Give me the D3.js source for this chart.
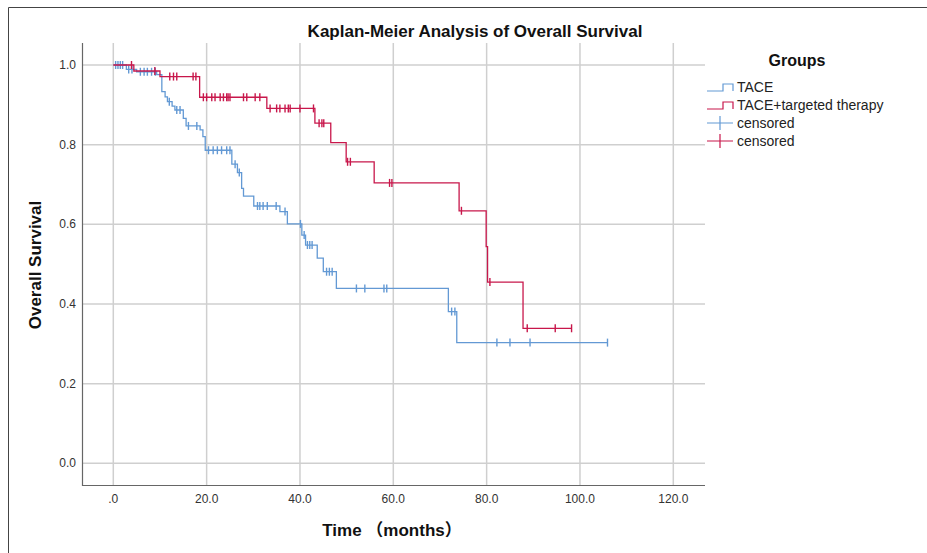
<!DOCTYPE html>
<html>
<head>
<meta charset="utf-8">
<script src="https://cdn.jsdelivr.net/npm/d3@7"></script>
<style>
  body { margin: 0; background: #fff; }
  svg { display: block; font-family: "Liberation Sans", Arial, "Noto Sans CJK SC", sans-serif; }
</style>
</head>
<body>
<svg id="km_chart" width="927" height="553"></svg>
<script>
// step times (months) and survival after each step
const tace_times = [0, 2.8, 5.0, 9.3, 10.4, 11.1, 11.6, 12.6, 13.2, 15.0, 15.6, 18.6, 19.2, 19.7, 25.4, 26.6, 27.5, 27.9, 30.1, 35.7, 37.3, 40.4, 41.2, 43.7, 45.0, 47.8, 71.8, 73.6];
const tace_surv  = [1.0, 0.989, 0.983, 0.976, 0.933, 0.920, 0.908, 0.897, 0.887, 0.866, 0.847, 0.837, 0.820, 0.786, 0.751, 0.730, 0.690, 0.671, 0.646, 0.632, 0.601, 0.573, 0.548, 0.515, 0.481, 0.439, 0.381, 0.303];
const tace_censored = [0.5, 1.0, 1.5, 2.0, 3.3, 4.0, 5.8, 6.6, 7.3, 8.2, 9.0, 12.0, 13.6, 14.3, 16.1, 17.9, 20.4, 21.4, 22.3, 23.2, 24.3, 25.0, 26.1, 27.0, 30.9, 31.4, 32.1, 33.0, 34.9, 36.8, 40.1, 40.9, 41.6, 42.1, 42.6, 45.7, 46.3, 46.9, 52.1, 53.9, 58.0, 58.6, 72.5, 73.2, 82.2, 85.0, 89.3, 105.9];

const combo_times = [0, 4.4, 10.0, 18.5, 32.9, 43.2, 46.6, 49.9, 55.9, 74.1, 79.9, 80.2, 87.8];
const combo_surv  = [1.0, 0.985, 0.971, 0.919, 0.891, 0.854, 0.805, 0.757, 0.704, 0.634, 0.544, 0.455, 0.339];
const combo_censored = [3.9, 8.9, 12.1, 12.9, 13.6, 17.1, 17.7, 19.3, 20.0, 21.1, 21.8, 22.9, 23.6, 24.3, 24.6, 25.0, 27.9, 28.6, 30.4, 31.4, 33.6, 35.0, 35.7, 36.8, 37.5, 37.9, 40.0, 42.9, 44.1, 44.7, 45.1, 50.2, 50.8, 59.2, 59.7, 74.6, 80.7, 88.7, 94.7, 98.2];

const group_names = ["TACE", "TACE+targeted therapy"];
const group_colors = ["#6399d4", "#c8174b"];
const x_ticks = [0, 20, 40, 60, 80, 100, 120];
const y_ticks = [0, 0.2, 0.4, 0.6, 0.8, 1.0];

let km_svg, xScale, yScale;
const plot = { left: 82, right: 705, top: 43, bottom: 485 };

document.addEventListener('DOMContentLoaded', function() {
    km_svg = d3.select('#km_chart');

    xScale = d3.scaleLinear().domain([0, 120]).range([113.3, 673.3]);
    yScale = d3.scaleLinear().domain([0, 1]).range([463.3, 65]);

    // outer frame
    km_svg.append('path')
        .attr('d', 'M8.5,560 V7.5 H930')
        .style('fill', 'none').style('stroke', '#444').style('stroke-width', 1);

    drawGrid();
    draw_group(tace_times, tace_surv, tace_censored, group_colors[0]);
    draw_group(combo_times, combo_surv, combo_censored, group_colors[1]);
    drawAxes();
    drawLegend();
});

function drawGrid() {
    const g = km_svg.append('g');
    g.selectAll('.vgrid').data(x_ticks).enter().append('line')
        .attr('x1', d => xScale(d)).attr('x2', d => xScale(d))
        .attr('y1', plot.top).attr('y2', plot.bottom)
        .style('stroke', '#cfcfcf').style('stroke-width', 1.5);
    g.selectAll('.hgrid').data(y_ticks).enter().append('line')
        .attr('x1', plot.left).attr('x2', plot.right)
        .attr('y1', d => yScale(d)).attr('y2', d => yScale(d))
        .style('stroke', '#cfcfcf').style('stroke-width', 1.5);
}

function survAt(times, surv, t) {
    const i = d3.bisectRight(times, t) - 1;
    return surv[Math.max(0, i)];
}

function draw_group(times, surv, censored, color) {
    const lastT = d3.max(censored.concat(times));
    const pts = times.map((t, i) => [t, surv[i]]);
    pts.push([lastT, surv[surv.length - 1]]);

    const stepLine = d3.line()
        .x(d => xScale(d[0]))
        .y(d => yScale(d[1]))
        .curve(d3.curveStepAfter);

    km_svg.append('path')
        .datum(pts)
        .style('fill', 'none')
        .style('stroke', color)
        .style('stroke-width', 1.3)
        .attr('d', stepLine);

    km_svg.append('g').selectAll('line')
        .data(censored)
        .enter()
        .append('line')
        .attr('x1', d => xScale(d)).attr('x2', d => xScale(d))
        .attr('y1', d => yScale(survAt(times, surv, d)) - 4)
        .attr('y2', d => yScale(survAt(times, surv, d)) + 4)
        .style('stroke', color)
        .style('stroke-width', 1.4);
}

function drawAxes() {
    const g = km_svg.append('g');
    g.append('path')
        .attr('d', `M${plot.left + 0.5},${plot.top} V${plot.bottom + 0.5} H${plot.right}`)
        .style('fill', 'none').style('stroke', '#666').style('stroke-width', 1.2);

    g.selectAll('.xlab').data(x_ticks).enter().append('text')
        .attr('x', d => xScale(d)).attr('y', 503)
        .style('text-anchor', 'middle').style('font-size', '12px').style('fill', '#333')
        .text(d => d === 0 ? '.0' : d3.format('.1f')(d));
    g.selectAll('.ylab').data(y_ticks).enter().append('text')
        .attr('x', 76).attr('y', d => yScale(d) + 4)
        .style('text-anchor', 'end').style('font-size', '12px').style('fill', '#333')
        .text(d => d3.format('.1f')(d));

    km_svg.append('text')
        .attr('x', 475).attr('y', 37)
        .style('text-anchor', 'middle').style('font-size', '17px').style('font-weight', 'bold')
        .style('fill', '#111')
        .text('Kaplan-Meier Analysis of Overall Survival');
    km_svg.append('text')
        .attr('x', 392).attr('y', 536)
        .style('text-anchor', 'middle').style('font-size', '17px').style('font-weight', 'bold')
        .style('fill', '#111')
        .text('Time （months）');
    km_svg.append('text')
        .attr('transform', 'translate(41,265) rotate(-90)')
        .style('text-anchor', 'middle').style('font-size', '17px').style('font-weight', 'bold')
        .style('fill', '#111')
        .text('Overall Survival');
}

function drawLegend() {
    const g = km_svg.append('g');
    g.append('text')
        .attr('x', 797).attr('y', 66)
        .style('text-anchor', 'middle').style('font-size', '16px').style('font-weight', 'bold')
        .style('fill', '#111')
        .text('Groups');

    const rows = [
        { type: 'step', color: group_colors[0], label: group_names[0] },
        { type: 'step', color: group_colors[1], label: group_names[1] },
        { type: 'cens', color: group_colors[0], label: 'censored' },
        { type: 'cens', color: group_colors[1], label: 'censored' }
    ];
    rows.forEach((r, i) => {
        const cy = 87 + i * 18;
        if (r.type === 'step') {
            g.append('path')
                .attr('d', `M707,${cy + 4} H723 V${cy - 3} H733 V${cy + 4}`)
                .style('fill', 'none').style('stroke', r.color).style('stroke-width', 1.2);
        } else {
            g.append('path')
                .attr('d', `M707,${cy} H733 M720,${cy - 7} V${cy + 7}`)
                .style('fill', 'none').style('stroke', r.color).style('stroke-width', 1.2);
        }
        g.append('text')
            .attr('x', 737).attr('y', cy + 5)
            .style('font-size', '14px').style('fill', '#222')
            .text(r.label);
    });
}
</script>
</body>
</html>
